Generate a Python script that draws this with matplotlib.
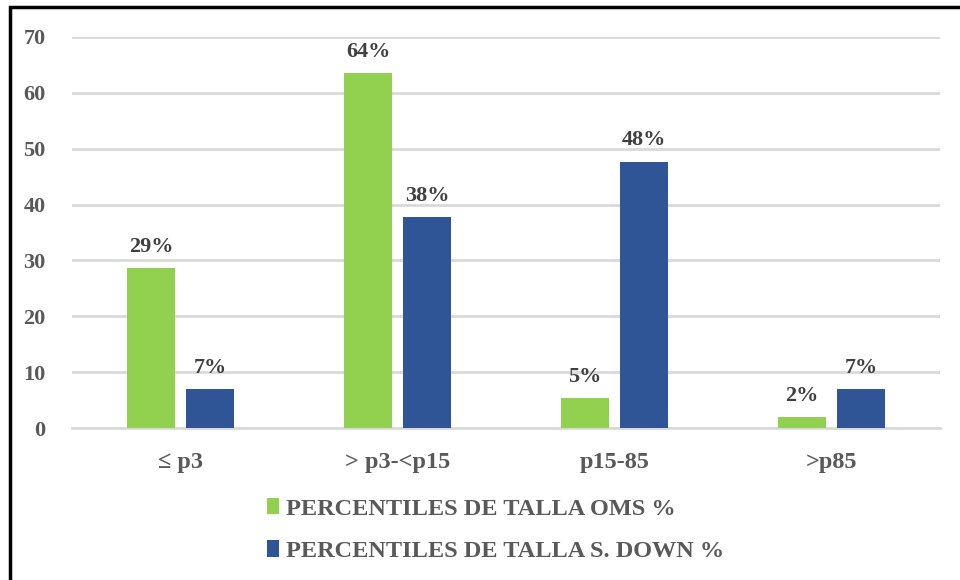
import matplotlib
matplotlib.use("Agg")
import matplotlib.pyplot as plt
import numpy as np
from matplotlib.patches import Rectangle

categories = ["≤ p3", "> p3-<p15", "p15-85", ">p85"]
oms_values = [28.7, 63.6, 5.3, 2.0]
down_values = [6.9, 37.7, 47.7, 6.9]
oms_labels = ["29%", "64%", "5%", "2%"]
down_labels = ["7%", "38%", "48%", "7%"]
series_names = ["PERCENTILES DE TALLA OMS %", "PERCENTILES DE TALLA S. DOWN %"]
yticks = [0, 10, 20, 30, 40, 50, 60, 70]

GREEN = "#92D050"
BLUE = "#2F5597"
TXT = "#595959"
LBL = "#404040"

plt.rcParams['font.family'] = ['Liberation Serif', 'DejaVu Serif']

fig = plt.figure(figsize=(9.6, 5.8), dpi=100)
ax = fig.add_axes([72/960, 1-428/580, (940-72)/960, (428-37)/580])

x = np.arange(len(categories))
w = 0.22
off = 0.136
b1 = ax.bar(x - off, oms_values, w, color=GREEN, zorder=3, label=series_names[0])
b2 = ax.bar(x + off, down_values, w, color=BLUE, zorder=3, label=series_names[1])

for rect, lab in zip(b1, oms_labels):
    ax.text(rect.get_x() + rect.get_width()/2, rect.get_height() + 2.0, lab,
            ha='center', va='bottom', fontsize=16, fontweight='bold', color=LBL)
for rect, lab in zip(b2, down_labels):
    ax.text(rect.get_x() + rect.get_width()/2, rect.get_height() + 2.0, lab,
            ha='center', va='bottom', fontsize=16, fontweight='bold', color=LBL)

ax.set_xlim(-0.5, 3.5)
ax.set_ylim(0, 70)
ax.set_yticks(yticks)
ax.set_yticklabels([str(t) for t in yticks], fontsize=16, fontweight='bold', color=TXT)
ax.set_xticks(x)
ax.set_xticklabels(categories, fontsize=17.5, fontweight='bold', color=TXT)
ax.tick_params(axis='both', length=0)
ax.tick_params(axis='y', pad=19)
ax.tick_params(axis='x', pad=17)
ax.grid(axis='y', color='#D9D9D9', linewidth=2, zorder=0)
ax.set_axisbelow(True)
for s in ['top', 'right', 'left']:
    ax.spines[s].set_visible(False)
ax.spines['bottom'].set_color('#D9D9D9')
ax.spines['bottom'].set_linewidth(2)

leg = fig.legend(handles=[b1, b2], labels=series_names, loc='upper left',
                 bbox_to_anchor=(267/960, 1-498/580), ncol=1, frameon=False,
                 borderpad=0, borderaxespad=0,
                 prop={'size': 17.5, 'weight': 'bold'}, handlelength=0.48,
                 handleheight=0.65, handletextpad=0.3, labelspacing=0.85)
for t in leg.get_texts():
    t.set_color(TXT)

fig.patches.append(Rectangle((10/960, -0.1), 1.2, 1.1 - 7/580, transform=fig.transFigure,
                             fill=False, edgecolor='black', linewidth=2.5, zorder=10))

fig.savefig("out.png", dpi=100)
